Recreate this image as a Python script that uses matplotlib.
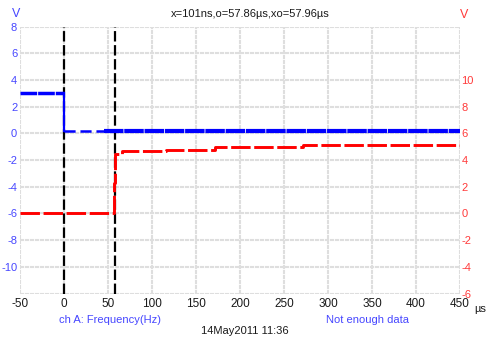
import matplotlib
matplotlib.use("Agg")
import matplotlib.pyplot as plt
from matplotlib import font_manager

names = {f.name for f in font_manager.fontManager.ttflist}
family = "Liberation Sans Narrow" if "Liberation Sans Narrow" in names else "Liberation Sans"
plt.rcParams["font.family"] = [family, "DejaVu Sans"]
plt.rcParams["lines.scale_dashes"] = False

# Time axis (µs)
x_ticks = [-50, 0, 50, 100, 150, 200, 250, 300, 350, 400, 450]

# Channel A (left axis, V): step from 3 V down to ~0.15 V at t = 0
blue_before_t = [-50, 0]
blue_before_v = [3.0, 3.0]
blue_edge_t = [0, 0]
blue_edge_v = [3.0, 0.15]
blue_sparse_t = [0, 45]
blue_sparse_v = [0.15, 0.15]
blue_after_t = [45, 450]
blue_after_v = [0.15, 0.15]

# Channel B (right axis, V): rises at ~57 µs and creeps upward
red_t = [-50, 56.8, 57.4, 66, 116, 172, 272, 450]
red_v = [0.0, 2.3, 4.49, 4.66, 4.78, 4.98, 5.12, 5.12]

# Cursor positions (µs)
cursors = [0.0, 57.96]

left_ticks = [8, 6, 4, 2, 0, -2, -4, -6, -8, -10]
right_ticks = [10, 8, 6, 4, 2, 0, -2, -4, -6]

W, H = 487, 341
fig = plt.figure(figsize=(W / 100, H / 100), dpi=100)
ax = fig.add_axes([20 / W, 1 - 293.5 / H, 440 / W, 266.8 / H])
ax2 = ax.twinx()

ax.set_xlim(-50, 450)
ax.set_ylim(-12, 8)
ax2.set_ylim(-6, 14)

grid_kw = dict(color="#dedede", lw=1.5, dashes=(3.0, 0.6), zorder=0)
for xv in x_ticks:
    ax.axvline(xv, **grid_kw)
for yv in range(-12, 9, 2):
    ax.axhline(yv, **grid_kw)

for sp in list(ax.spines.values()) + list(ax2.spines.values()):
    sp.set_visible(False)

ax.set_xticks(x_ticks)
ax.set_xticklabels([str(v) for v in x_ticks])
ax.tick_params(axis="x", length=0, pad=3.5, labelsize=8.5, colors="#1a1a1a")
ax.set_yticks(left_ticks)
ax.set_yticklabels([str(v) for v in left_ticks])
ax.tick_params(axis="y", length=0, pad=2, labelsize=8, labelcolor="#4646ff")
ax2.set_yticks(right_ticks)
ax2.set_yticklabels([str(v) for v in right_ticks])
ax2.tick_params(axis="y", length=0, pad=1, labelsize=8, labelcolor="#ff3a3a")

# Cursors
for c in cursors:
    ax.axvline(c, color="black", lw=1.6, dashes=(7.5, 2.6), zorder=3)

# Red trace on the right axis
ax2.plot(red_t, red_v, color="#ff0000", lw=2.1, dashes=(14, 2.6),
         drawstyle="steps-post", zorder=4)

# Blue trace on the left axis
ax.plot(blue_before_t, blue_before_v, color="#0000ff", lw=2.5, dashes=(12, 0.7), zorder=5)
ax.plot(blue_edge_t, blue_edge_v, color="#0000ff", lw=1.6, zorder=5)
ax.plot(blue_sparse_t, blue_sparse_v, color="#0000ff", lw=1.8, dashes=(8, 3.5), zorder=5)
ax.plot(blue_after_t, blue_after_v, color="#0000ff", lw=3.0, dashes=(14, 0.6), zorder=5)
ax2.set_zorder(ax.get_zorder() + 1)
ax2.patch.set_visible(False)
ax2.set_xlim(-50, 450)

def ftext(x, y, s, **kw):
    fig.text(x / W, 1 - y / H, s, va="center", **kw)

ftext(250, 14, "x=101ns,o=57.86µs,xo=57.96µs", ha="center", fontsize=8, color="#1a1a1a")
ftext(16, 14, "V", ha="center", fontsize=9, color="#4646ff")
ftext(464, 15, "V", ha="center", fontsize=9, color="#ff3a3a")
ftext(474, 309, "µs", ha="left", fontsize=8, color="#1a1a1a")
ftext(110, 320, "ch A: Frequency(Hz)", ha="center", fontsize=8, color="#4646ff")
ftext(368, 320, "Not enough data", ha="center", fontsize=8, color="#4646ff")
ftext(245, 331, "14May2011 11:36", ha="center", fontsize=8, color="#1a1a1a")

fig.savefig("out.png", dpi=100)
